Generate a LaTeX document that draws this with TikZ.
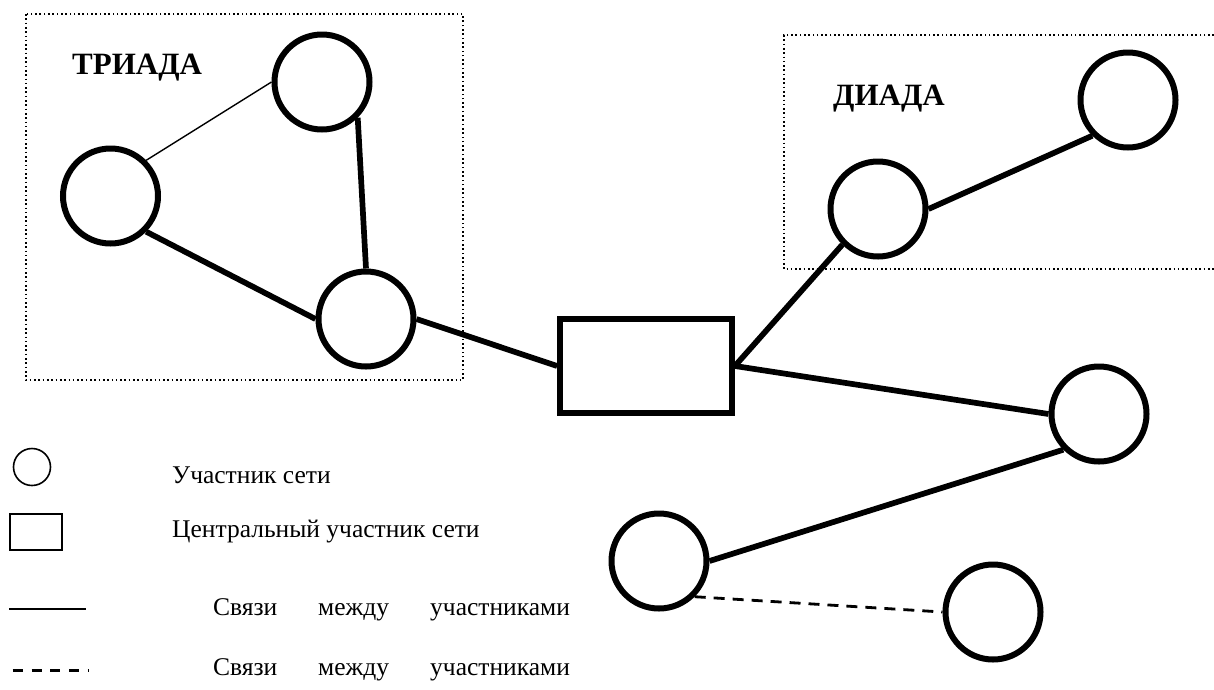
\documentclass[tikz,border=0pt]{standalone}
\usepackage{fontspec}
\setmainfont{Liberation Serif}
\begin{document}
\begin{tikzpicture}[x=1pt,y=-1pt,
  member/.style={circle,draw,line width=6pt,minimum size=95pt,inner sep=0pt},
  hub/.style={rectangle,draw,line width=5.8pt,minimum width=172pt,minimum height=94pt,inner sep=0pt},
  tie/.style={line width=5.7pt},
  weaktie/.style={line width=1.4pt},
  loosetie/.style={line width=2.8pt,dash pattern=on 11pt off 8pt},
  group/.style={line width=1.6pt,dash pattern=on 1.6pt off 2.7pt},
  title/.style={font=\fontsize{31}{36}\selectfont\bfseries,anchor=base west,inner sep=0pt},
  legend/.style={font=\fontsize{25.5}{30}\selectfont,anchor=base west,inner sep=0pt},
]
\useasboundingbox (0,0) rectangle (1214,689);

% group frames
\draw[group] (26,14) rectangle (463,380);
\draw[group] (1214,35) -| (784,269) -- (1214,269);

% group titles
\node[title] (triad) at (72,74) {ТРИАДА};
\node[title] (diad) at (833,105) {ДИАДА};

% network members
\node[member] (c1) at (110.5,196) {};
\node[member] (c2) at (322,82) {};
\node[member] (c3) at (366,319) {};
\node[hub]    (hub) at (646,366) {};
\node[member] (c4) at (878,209) {};
\node[member] (c7) at (1128,100) {};
\node[member] (c5) at (1099,414) {};
\node[member] (c6) at (659,561) {};
\node[member] (c8) at (993,612) {};

% ties
\draw[weaktie] (c1.north east) -- (c2.west);
\draw[tie] (c2.south east) -- (c3.north);
\draw[tie] (c1.south east) -- (c3.west);
\draw[tie] (c3.east) -- (hub.west);
\draw[tie] (hub.east) -- (c4.south west);
\draw[tie] (c4.east) -- (c7.south west);
\draw[tie] (hub.east) -- (c5.west);
\draw[tie] (c6.east) -- (c5.south west);
\draw[loosetie] (c6.south east) -- (c8.west);

% legend
\node[circle,draw,line width=1.6pt,minimum size=37pt,inner sep=0pt] (lcircle) at (32,467) {};
\node[rectangle,draw,line width=1.9pt,minimum width=51.5pt,minimum height=36.5pt,inner sep=0pt] (lrect) at (36,532) {};
\coordinate (ls1) at (9,609);
\coordinate (ls2) at (86,609);
\draw[line width=2pt] (ls1) -- (ls2);
\coordinate (ld1) at (12.7,670.5);
\coordinate (ld2) at (89.3,670.5);
\draw[line width=2.2pt,dash pattern=on 10pt off 8.8pt] (ld1) -- (ld2);

\node[legend] (t1) at (172,483) {Участник сети};
\node[legend] (t2) at (172,537) {Центральный участник сети};
\node[legend] (t3) at (213,615) {\makebox[105pt][l]{Связи}\makebox[112pt][l]{между}участниками};
\node[legend] (t4) at (213,675) {\makebox[105pt][l]{Связи}\makebox[112pt][l]{между}участниками};
\end{tikzpicture}
\end{document}
